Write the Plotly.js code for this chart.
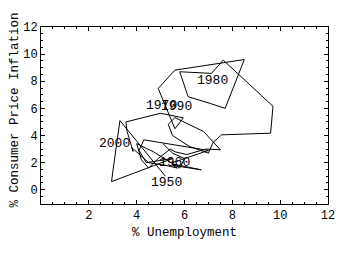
<!DOCTYPE html>
<html>
<head>
<meta charset="utf-8">
<script src="https://cdn.plot.ly/plotly-3.0.1.min.js"></script>
<style>html,body{margin:0;padding:0;background:#fff;}#chart{width:340px;height:255px;}</style>
</head>
<body>
<div id="chart"></div>
<script>
// Year of each point
var years = [1950,1951,1952,1953,1954,1955,1956,1957,1958,1959,
             1960,1961,1962,1963,1964,1965,1966,1967,1968,1969,
             1970,1971,1972,1973,1974,1975,1976,1977,1978,1979,
             1980,1981,1982,1983,1984,1985,1986,1987,1988,1989,
             1990,1991,1992,1993,1994,1995,1996,1997,1998,1999,
             2000,2001,2002,2003,2004,2005];
// % Unemployment
var unemployment = [5.2,3.3,3.0,2.95,5.5,4.4,4.1,4.3,7.0,5.5,
                    5.5,6.7,5.5,5.7,5.2,4.5,3.8,3.85,3.6,3.55,
                    5.0,5.95,5.6,4.9,5.6,8.5,7.7,7.1,6.15,5.8,
                    7.13,7.62,9.7,9.6,7.55,7.2,7.0,6.2,5.5,5.32,
                    5.6,6.8,7.5,6.9,6.1,5.6,5.4,4.9,4.5,4.2,
                    4.0,4.7,5.8,6.0,5.5,5.1];
// % Consumer Price Inflation
var inflation = [1.0,5.1,1.3,0.6,2.3,2.0,2.9,3.68,2.9,2.0,
                 1.9,1.47,1.8,1.6,1.8,2.0,3.1,2.82,4.3,5.0,
                 5.64,5.3,4.5,7.47,8.82,9.6,6.0,6.35,6.86,8.7,
                 8.58,9.56,6.15,4.17,4.05,3.5,2.7,3.2,4.0,4.83,
                 5.32,4.29,2.95,3.0,2.6,2.8,3.0,2.3,1.6,2.2,
                 3.4,2.8,1.6,2.3,2.7,3.4];
// Labelled decades and their label offsets (pixels)
var labelYears = [1950,1960,1970,1980,1990,2000];
var labelDX = [1, 2, 1, 1, 2, -22];
var labelDY = [-6, 1, 8, -7, 11, 0];
var xTicks = [2,4,6,8,10,12];
var yTicks = [0,2,4,6,8,10,12];

var FONT = "'Liberation Mono', 'Courier New', monospace";

var trace = {
  x: unemployment, y: inflation, mode: 'lines', type: 'scatter',
  line: {color: '#000', width: 1}, hoverinfo: 'none'
};

var annotations = labelYears.map(function(yr, i){
  var k = years.indexOf(yr);
  return {x: unemployment[k], y: inflation[k], xref: 'x', yref: 'y',
          text: String(yr), showarrow: false, xshift: labelDX[i], yshift: labelDY[i],
          font: {family: FONT, size: 13, color: '#000'}};
});
annotations.push({text: '% Consumer Price Inflation', xref: 'paper', yref: 'paper',
  x: 0, y: 0.5, xshift: -36, yshift: 5, textangle: -90, showarrow: false,
  font: {family: FONT, size: 12.5, color: '#000'}});

var axisCommon = {
  showline: true, linecolor: '#000', linewidth: 1, mirror: 'allticks',
  ticks: 'inside', ticklen: 4, tickcolor: '#000', tickwidth: 1,
  showgrid: false, zeroline: false,
  tickfont: {family: FONT, size: 12, color: '#000'},
  minor: {dtick: 0.5, ticklen: 2, tickcolor: '#000', tickwidth: 1, ticks: 'inside', showgrid: false}
};

var layout = {
  width: 340, height: 255,
  margin: {l: 41, r: 12, t: 27, b: 51},
  paper_bgcolor: '#fff', plot_bgcolor: '#fff',
  showlegend: false,
  xaxis: Object.assign({}, axisCommon, {
    range: [0, 12], tickvals: xTicks, ticktext: xTicks.map(String),
    title: {text: '% Unemployment', font: {family: FONT, size: 12.5, color: '#000'}, standoff: 4}
  }),
  yaxis: Object.assign({}, axisCommon, {
    range: [-1.05, 12], tickvals: yTicks, ticktext: yTicks.map(String)
  }),
  annotations: annotations
};

Plotly.newPlot('chart', [trace], layout, {staticPlot: true, displayModeBar: false});
</script>
</body>
</html>
